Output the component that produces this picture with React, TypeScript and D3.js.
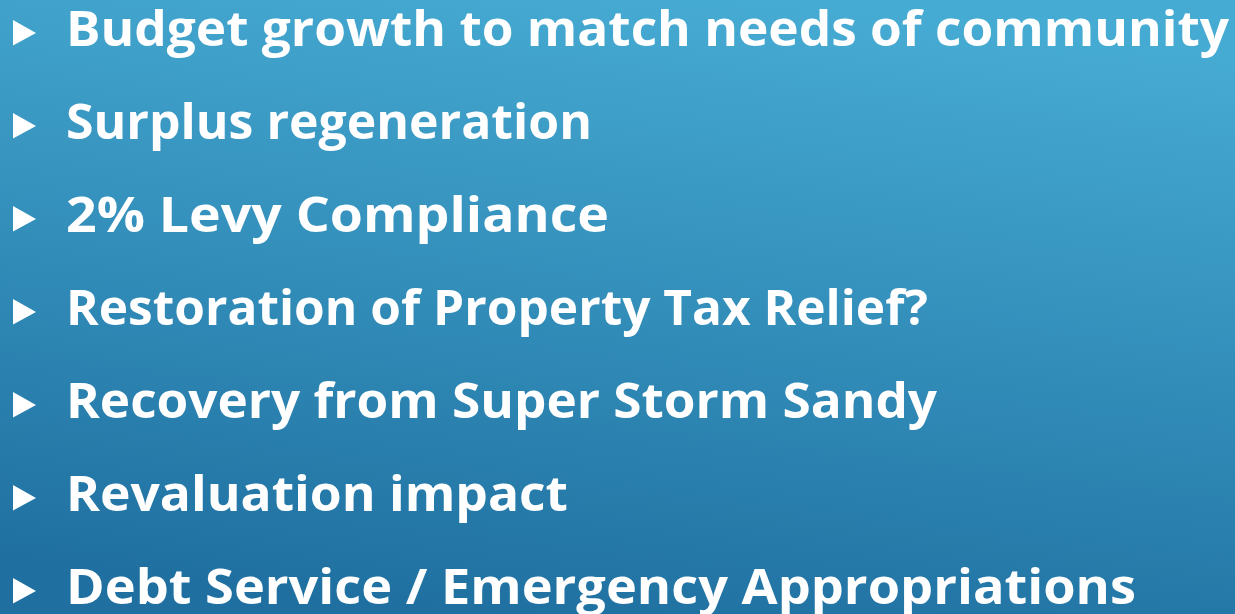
import React from "react";
import * as d3 from "d3";

const bullets: string[] = [
  "Budget growth to match needs of community",
  "Surplus regeneration",
  "2% Levy Compliance",
  "Restoration of Property Tax Relief?",
  "Recovery from Super Storm Sandy",
  "Revaluation impact",
  "Debt Service / Emergency Appropriations",
];

// measured rendered extents of each line in the reference (layout)
const lineRight: number[] = [1229, 592, 609, 928, 937, 568, 1136];

const W = 1235;
const H = 614;

export default function App() {
  const y = d3
    .scalePoint<number>()
    .domain(d3.range(bullets.length))
    .range([46, 604]);
  const textX = 66;
  return (
    <svg
      width={W}
      height={H}
      style={{ position: "absolute", left: 0, top: 0, display: "block" }}
    >
      <defs>
        <linearGradient id="bg" x1="0.62" y1="0" x2="0.38" y2="1">
          <stop offset="0" stopColor="#46abd3" />
          <stop offset="1" stopColor="#1f70a0" />
        </linearGradient>
      </defs>
      <rect x={0} y={0} width={W} height={H} fill="url(#bg)" />
      {bullets.map((t, i) => {
        const by = y(i) as number;
        const tri = d3.path();
        tri.moveTo(13, by - 26);
        tri.lineTo(36, by - 13);
        tri.lineTo(13, by - 0.5);
        tri.closePath();
        return (
          <g key={i}>
            <path d={tri.toString()} fill="#ffffff" />
            <text
              x={textX}
              y={by}
              fill="#ffffff"
              fontFamily="'Open Sans', 'DejaVu Sans', sans-serif"
              fontWeight={700}
              fontSize={48}
              textLength={lineRight[i] - textX}
              lengthAdjust="spacingAndGlyphs"
            >
              {t}
            </text>
          </g>
        );
      })}
    </svg>
  );
}
